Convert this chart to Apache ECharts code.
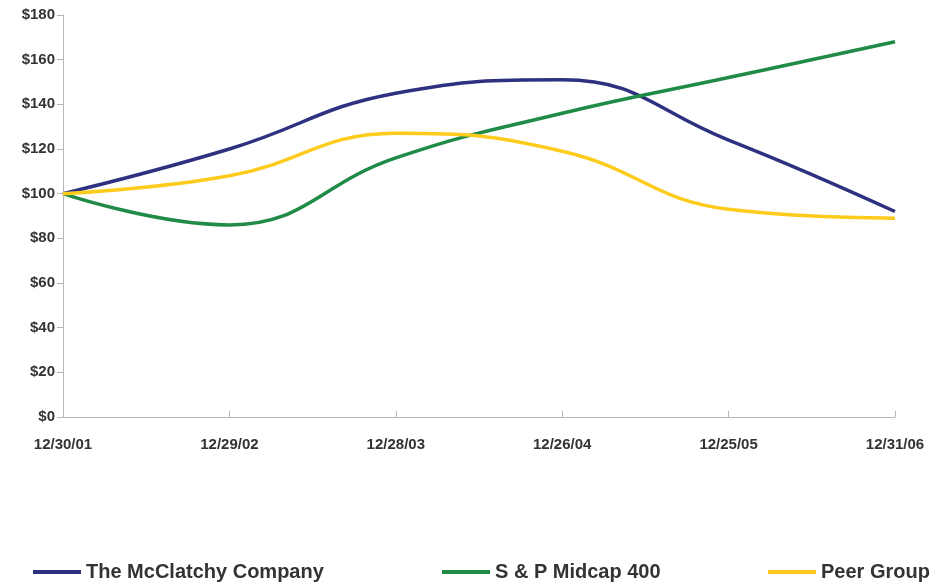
<!DOCTYPE html>
<html><head><meta charset="utf-8">
<script src="https://cdn.jsdelivr.net/npm/echarts@6/dist/echarts.min.js"></script>
<style>html,body{margin:0;padding:0;background:#fff}#c{width:936px;height:584px}</style>
</head><body><div id="c"></div>
<script>
const categories = ['12/30/01','12/29/02','12/28/03','12/26/04','12/25/05','12/31/06'];
const mcclatchy = [100, 120, 145, 151, 124, 92];
const spMidcap = [100, 86, 116, 136, 152, 168];
const peerGroup = [100, 108, 127, 119, 93, 89];
const yTicks = [0, 20, 40, 60, 80, 100, 120, 140, 160, 180];

const names = ['The McClatchy Company', 'S & P Midcap 400', 'Peer Group'];
const colors = ['#2d3180', '#1f8b47', '#fdcb1c'];
const lefts = [28, 437, 763];
const font = 'Liberation Sans, Arial, sans-serif';

const chart = echarts.init(document.getElementById('c'));
chart.setOption({
  animation: false,
  grid: {left: 63, right: 41, top: 15, bottom: 167},
  xAxis: {
    type: 'category', data: categories, boundaryGap: false,
    axisLine: {lineStyle: {color: '#b8b8b8', width: 1}},
    axisTick: {inside: true, length: 6, lineStyle: {color: '#b8b8b8'}},
    axisLabel: {margin: 20, color: '#333', fontWeight: 'bold', fontSize: 15, fontFamily: font}
  },
  yAxis: {
    type: 'value', min: yTicks[0], max: yTicks[yTicks.length-1], interval: 20,
    splitLine: {show: false},
    axisLine: {show: true, lineStyle: {color: '#b8b8b8', width: 1}},
    axisTick: {show: true, length: 6, lineStyle: {color: '#b8b8b8'}},
    axisLabel: {margin: 8, color: '#333', fontWeight: 'bold', fontSize: 15, fontFamily: font,
      formatter: v => '$' + v}
  },
  legend: names.map((n, i) => ({
    data: [n], left: lefts[i], top: 557, icon: 'rect', itemWidth: 48, itemHeight: 4, itemGap: 6,
    textStyle: {color: '#333', fontWeight: 'bold', fontSize: 20, fontFamily: font}
  })),
  series: [mcclatchy, spMidcap, peerGroup].map((d, i) => ({
    name: names[i], type: 'line', data: d, smooth: 0.45, symbol: 'none',
    lineStyle: {color: colors[i], width: 3.5}, itemStyle: {color: colors[i]}
  }))
});
</script></body></html>
